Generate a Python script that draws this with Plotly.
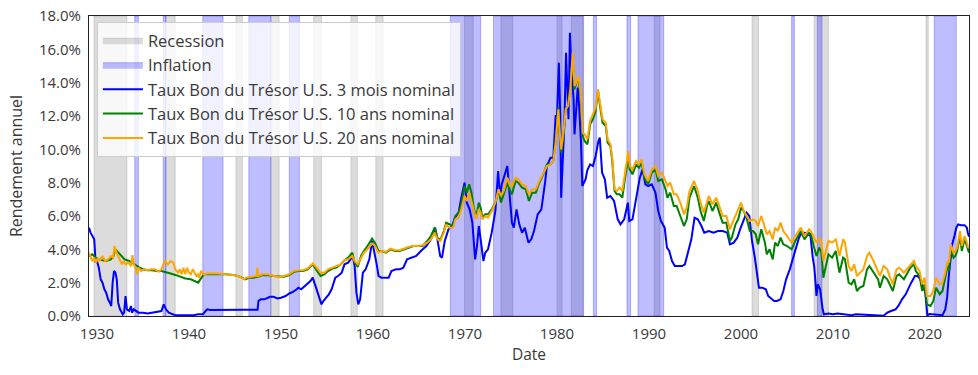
import plotly.graph_objects as go

# ---------------- data ----------------
rec_start = [1929.67, 1937.45, 1945.10, 1948.90, 1953.55, 1957.60, 1960.30, 1969.95, 1973.90, 1980.00, 1981.55, 1990.55, 2001.20, 2007.95, 2020.10]
rec_end   = [1933.25, 1938.50, 1945.80, 1949.80, 1954.40, 1958.30, 1961.10, 1970.90, 1975.20, 1980.55, 1982.90, 1991.20, 2001.90, 2009.50, 2020.35]

inf_start = [1934.10, 1937.20, 1941.50, 1946.50, 1950.90, 1968.40, 1973.10, 1983.95, 1987.60, 1988.80, 2005.50, 2008.30, 2021.00]
inf_end   = [1934.50, 1937.50, 1943.70, 1948.90, 1952.00, 1971.70, 1982.85, 1984.30, 1988.00, 1991.60, 2005.80, 2008.80, 2023.40]

t3m_dates = [1929.13, 1929.3, 1929.5, 1929.7, 1929.85, 1930.0, 1930.2, 1930.4, 1930.6, 1930.8, 1931.0, 1931.2, 1931.4, 1931.55, 1931.7, 1931.85, 1932.0, 1932.15, 1932.3, 1932.5, 1932.8, 1932.95, 1933.1, 1933.25, 1933.5, 1933.7, 1933.8, 1934.0, 1934.5, 1935.0, 1935.5, 1936.0, 1936.5, 1937.0, 1937.25, 1937.5, 1937.8, 1938.2, 1938.5, 1939.0, 1939.5, 1940.0, 1940.5, 1941.0, 1941.5, 1941.8, 1942.0, 1942.3, 1943.0, 1944.0, 1945.0, 1946.0, 1947.0, 1947.45, 1947.55, 1947.8, 1948.2, 1948.8, 1949.2, 1949.6, 1950.0, 1950.5, 1950.9, 1951.3, 1951.7, 1951.9, 1952.2, 1952.6, 1952.9, 1953.2, 1953.45, 1953.7, 1954.0, 1954.4, 1954.6, 1954.9, 1955.2, 1955.5, 1955.9, 1956.2, 1956.6, 1956.9, 1957.3, 1957.8, 1958.0, 1958.2, 1958.4, 1958.6, 1958.9, 1959.2, 1959.6, 1959.9, 1960.1, 1960.4, 1960.6, 1960.9, 1961.3, 1961.7, 1962.0, 1962.5, 1962.9, 1963.3, 1963.7, 1964.2, 1964.7, 1965.2, 1965.8, 1966.3, 1966.75, 1967.0, 1967.3, 1967.5, 1967.8, 1968.2, 1968.6, 1968.9, 1969.3, 1969.6, 1969.95, 1970.2, 1970.5, 1970.8, 1971.1, 1971.3, 1971.5, 1971.7, 1972.0, 1972.2, 1972.5, 1972.9, 1973.3, 1973.6, 1973.8, 1974.0, 1974.3, 1974.6, 1974.8, 1975.1, 1975.3, 1975.6, 1975.9, 1976.2, 1976.5, 1976.9, 1977.2, 1977.5, 1977.9, 1978.3, 1978.7, 1978.9, 1979.3, 1979.6, 1979.85, 1980.0, 1980.2, 1980.35, 1980.45, 1980.6, 1980.8, 1980.98, 1981.1, 1981.25, 1981.4, 1981.55, 1981.8, 1981.9, 1982.1, 1982.25, 1982.4, 1982.6, 1982.75, 1982.9, 1983.1, 1983.3, 1983.6, 1983.9, 1984.2, 1984.5, 1984.65, 1984.9, 1985.2, 1985.45, 1985.8, 1986.2, 1986.6, 1986.9, 1987.3, 1987.7, 1987.85, 1988.2, 1988.6, 1989.0, 1989.3, 1989.6, 1989.9, 1990.3, 1990.7, 1991.0, 1991.3, 1991.7, 1991.95, 1992.2, 1992.5, 1992.8, 1993.2, 1993.6, 1993.9, 1994.3, 1994.6, 1994.95, 1995.3, 1995.7, 1996.0, 1996.5, 1997.0, 1997.5, 1998.0, 1998.5, 1998.8, 1999.2, 1999.6, 1999.9, 2000.3, 2000.6, 2000.9, 2001.2, 2001.5, 2001.8, 2001.95, 2002.3, 2002.7, 2002.95, 2003.4, 2003.6, 2003.9, 2004.3, 2004.6, 2004.9, 2005.3, 2005.6, 2005.9, 2006.3, 2006.6, 2006.9, 2007.3, 2007.55, 2007.8, 2007.95, 2008.1, 2008.2, 2008.35, 2008.6, 2008.85, 2009.0, 2009.5, 2010.0, 2010.5, 2011.0, 2011.5, 2012.0, 2012.5, 2013.0, 2013.5, 2014.0, 2014.5, 2015.0, 2015.5, 2015.9, 2016.3, 2016.8, 2017.1, 2017.5, 2017.9, 2018.2, 2018.5, 2018.9, 2019.2, 2019.5, 2019.8, 2020.0, 2020.15, 2020.25, 2020.5, 2021.0, 2021.5, 2021.9, 2022.2, 2022.4, 2022.6, 2022.8, 2022.95, 2023.2, 2023.4, 2023.6, 2023.9, 2024.3, 2024.55, 2024.65, 2024.78]
t3m_values = [5.3, 5.0, 4.8, 4.6, 3.2, 3.3, 2.9, 2.2, 2.0, 1.6, 1.4, 1.0, 0.8, 0.6, 2.0, 2.7, 2.6, 2.2, 0.8, 0.4, 0.1, 0.2, 1.2, 0.4, 0.3, 0.6, 0.2, 0.4, 0.2, 0.2, 0.15, 0.2, 0.25, 0.3, 0.7, 0.4, 0.2, 0.1, 0.05, 0.05, 0.05, 0.05, 0.05, 0.1, 0.1, 0.3, 0.4, 0.36, 0.37, 0.37, 0.37, 0.37, 0.37, 0.37, 0.9, 1.0, 1.0, 1.15, 1.15, 1.05, 1.1, 1.2, 1.35, 1.45, 1.6, 1.7, 1.6, 1.8, 2.0, 2.1, 2.3, 1.9, 1.4, 0.7, 0.9, 1.1, 1.3, 1.6, 2.3, 2.4, 2.6, 3.1, 3.2, 3.6, 3.0, 1.4, 0.7, 1.0, 2.6, 2.8, 3.4, 4.5, 4.0, 3.1, 2.4, 2.3, 2.3, 2.3, 2.7, 2.8, 2.8, 2.9, 3.4, 3.5, 3.6, 3.9, 4.2, 4.6, 5.3, 4.6, 3.6, 3.5, 4.5, 5.2, 5.4, 5.9, 6.2, 7.1, 8.0, 6.8, 6.4, 5.6, 3.4, 4.2, 5.4, 4.6, 3.3, 3.8, 4.0, 5.0, 6.3, 8.7, 7.2, 7.9, 8.4, 9.0, 7.6, 5.6, 5.3, 6.4, 5.5, 5.0, 5.3, 4.4, 4.6, 5.1, 6.1, 6.4, 8.0, 9.0, 9.5, 9.5, 12.0, 12.0, 15.2, 12.0, 7.1, 8.8, 11.5, 15.8, 14.3, 11.8, 17.0, 15.0, 13.0, 10.9, 12.5, 13.7, 12.6, 10.5, 7.8, 8.0, 8.2, 8.75, 9.1, 9.0, 9.6, 10.5, 10.7, 8.6, 8.2, 7.1, 7.2, 6.9, 5.8, 5.5, 5.8, 6.8, 5.7, 5.8, 7.0, 8.3, 8.8, 7.9, 7.8, 7.9, 7.4, 6.3, 5.7, 5.3, 4.1, 3.9, 3.3, 3.0, 3.0, 3.0, 3.1, 4.0, 4.6, 5.9, 5.8, 5.4, 5.0, 5.1, 5.0, 5.1, 5.1, 5.0, 4.3, 4.4, 4.7, 5.2, 5.8, 6.2, 6.0, 4.5, 3.5, 2.2, 1.7, 1.7, 1.6, 1.2, 1.0, 0.9, 0.9, 1.0, 1.5, 2.2, 2.8, 3.4, 4.0, 4.7, 5.0, 5.0, 4.9, 4.8, 3.5, 3.0, 2.0, 1.2, 1.9, 1.6, 0.5, 0.1, 0.15, 0.1, 0.15, 0.12, 0.05, 0.05, 0.1, 0.08, 0.05, 0.05, 0.03, 0.03, 0.02, 0.2, 0.3, 0.4, 0.6, 1.0, 1.3, 1.7, 2.0, 2.4, 2.4, 2.2, 1.6, 1.55, 0.3, 0.05, 0.12, 0.08, 0.05, 0.05, 0.4, 1.1, 2.5, 3.8, 4.3, 4.8, 5.3, 5.5, 5.45, 5.45, 5.3, 5.0, 4.75]

t10y_dates = [1929.13, 1929.5, 1929.85, 1930.2, 1930.6, 1931.0, 1931.5, 1931.8, 1932.0, 1932.3, 1932.6, 1933.0, 1933.5, 1934.0, 1934.5, 1935.0, 1935.5, 1936.0, 1936.5, 1937.0, 1937.4, 1938.0, 1938.6, 1939.2, 1939.6, 1940.2, 1940.6, 1941.0, 1941.6, 1942.0, 1943.0, 1944.0, 1945.0, 1945.6, 1946.1, 1946.6, 1947.0, 1947.5, 1948.0, 1948.6, 1949.2, 1949.8, 1950.3, 1950.9, 1951.4, 1951.9, 1952.4, 1952.9, 1953.45, 1953.8, 1954.3, 1954.7, 1955.1, 1955.6, 1956.0, 1956.5, 1956.9, 1957.3, 1957.75, 1958.0, 1958.35, 1958.7, 1959.0, 1959.4, 1959.9, 1960.2, 1960.6, 1960.9, 1961.4, 1961.9, 1962.4, 1962.9, 1963.4, 1963.9, 1964.4, 1964.9, 1965.4, 1965.9, 1966.3, 1966.7, 1967.0, 1967.3, 1967.7, 1967.95, 1968.3, 1968.7, 1968.95, 1969.3, 1969.6, 1969.95, 1970.2, 1970.45, 1970.7, 1970.95, 1971.2, 1971.5, 1971.7, 1971.9, 1972.2, 1972.5, 1972.9, 1973.3, 1973.65, 1973.9, 1974.2, 1974.6, 1974.9, 1975.1, 1975.5, 1975.8, 1976.2, 1976.6, 1976.95, 1977.3, 1977.7, 1978.0, 1978.5, 1978.9, 1979.3, 1979.6, 1979.85, 1980.15, 1980.3, 1980.45, 1980.7, 1980.95, 1981.2, 1981.45, 1981.7, 1981.9, 1982.1, 1982.35, 1982.6, 1982.8, 1983.0, 1983.3, 1983.6, 1983.9, 1984.2, 1984.45, 1984.7, 1984.95, 1985.3, 1985.5, 1985.8, 1986.0, 1986.25, 1986.5, 1986.8, 1987.1, 1987.4, 1987.75, 1987.9, 1988.2, 1988.6, 1988.9, 1989.2, 1989.5, 1989.9, 1990.3, 1990.7, 1991.0, 1991.4, 1991.8, 1992.0, 1992.3, 1992.7, 1993.0, 1993.4, 1993.8, 1994.1, 1994.4, 1994.9, 1995.3, 1995.6, 1995.95, 1996.3, 1996.5, 1996.9, 1997.3, 1997.7, 1998.0, 1998.4, 1998.8, 1999.0, 1999.4, 1999.7, 2000.0, 2000.3, 2000.6, 2000.95, 2001.3, 2001.6, 2001.85, 2002.2, 2002.6, 2002.8, 2003.1, 2003.45, 2003.7, 2004.0, 2004.3, 2004.6, 2005.0, 2005.5, 2005.9, 2006.5, 2006.9, 2007.4, 2007.6, 2007.9, 2008.2, 2008.5, 2008.75, 2008.95, 2009.2, 2009.5, 2009.9, 2010.3, 2010.7, 2011.1, 2011.3, 2011.7, 2012.0, 2012.3, 2012.6, 2012.9, 2013.3, 2013.7, 2013.95, 2014.4, 2014.9, 2015.1, 2015.5, 2015.9, 2016.2, 2016.5, 2016.9, 2017.2, 2017.7, 2018.0, 2018.4, 2018.8, 2019.0, 2019.4, 2019.7, 2019.95, 2020.2, 2020.6, 2020.9, 2021.2, 2021.6, 2021.9, 2022.2, 2022.45, 2022.6, 2022.8, 2023.1, 2023.3, 2023.5, 2023.8, 2024.0, 2024.3, 2024.5, 2024.7, 2024.78]
t10y_values = [3.6, 3.7, 3.5, 3.4, 3.35, 3.3, 3.4, 3.6, 4.0, 3.8, 3.6, 3.4, 3.3, 3.1, 2.95, 2.8, 2.75, 2.75, 2.7, 2.7, 2.65, 2.55, 2.45, 2.35, 2.25, 2.2, 2.1, 2.0, 2.5, 2.5, 2.5, 2.5, 2.45, 2.35, 2.2, 2.3, 2.3, 2.35, 2.45, 2.45, 2.4, 2.35, 2.35, 2.45, 2.65, 2.7, 2.7, 2.8, 3.1, 2.8, 2.4, 2.5, 2.7, 2.85, 2.9, 3.1, 3.35, 3.5, 3.8, 3.2, 2.95, 3.6, 3.9, 4.2, 4.65, 4.4, 3.9, 3.9, 3.8, 4.0, 3.9, 3.9, 4.0, 4.1, 4.2, 4.2, 4.2, 4.5, 4.8, 5.3, 4.7, 4.55, 5.1, 5.6, 5.5, 5.4, 6.0, 6.2, 6.7, 7.8, 7.4, 7.9, 7.4, 6.5, 5.9, 6.8, 6.5, 5.9, 6.1, 6.1, 6.4, 6.8, 7.6, 6.8, 7.3, 8.0, 7.5, 7.3, 8.1, 8.0, 7.7, 7.6, 6.9, 7.4, 7.4, 7.9, 8.5, 9.1, 9.1, 9.3, 10.5, 12.5, 10.8, 9.8, 10.8, 12.5, 12.6, 13.8, 15.4, 13.6, 14.0, 14.2, 13.0, 10.8, 10.5, 10.3, 11.5, 11.8, 12.3, 13.5, 12.5, 11.6, 11.4, 10.4, 10.2, 9.3, 7.5, 7.3, 7.3, 7.1, 8.3, 9.5, 8.8, 8.5, 9.1, 8.9, 9.2, 8.3, 7.9, 8.6, 8.8, 8.1, 8.2, 7.6, 7.1, 7.4, 6.6, 6.6, 6.0, 5.4, 5.8, 7.1, 7.8, 7.1, 6.3, 5.7, 6.6, 6.9, 6.3, 6.8, 6.1, 5.6, 5.6, 4.5, 4.7, 5.5, 5.8, 6.5, 6.3, 5.9, 5.1, 5.1, 4.9, 4.3, 5.2, 4.4, 3.7, 4.0, 3.4, 4.4, 4.2, 4.7, 4.3, 4.2, 4.0, 4.5, 5.1, 4.6, 5.0, 4.9, 4.2, 3.6, 4.1, 3.8, 2.3, 2.9, 3.7, 3.5, 3.9, 2.6, 3.5, 3.4, 2.0, 1.9, 2.2, 1.5, 1.7, 1.8, 2.8, 3.0, 2.6, 2.2, 1.7, 2.4, 2.2, 1.8, 1.5, 2.4, 2.5, 2.2, 2.5, 2.9, 3.1, 2.7, 2.4, 1.5, 1.9, 0.7, 0.6, 0.9, 1.7, 1.3, 1.5, 2.3, 3.0, 2.7, 4.0, 3.5, 3.6, 3.9, 4.8, 3.9, 4.6, 4.3, 3.8, 3.8]

t20y_dates = [1929.13, 1929.3, 1929.5, 1929.7, 1929.9, 1930.1, 1930.3, 1930.6, 1930.9, 1931.2, 1931.5, 1931.75, 1931.9, 1932.05, 1932.3, 1932.5, 1932.7, 1932.9, 1933.1, 1933.4, 1933.7, 1933.85, 1934.0, 1934.2, 1934.35, 1934.5, 1934.8, 1935.1, 1935.5, 1935.9, 1936.3, 1936.7, 1937.0, 1937.2, 1937.4, 1937.7, 1938.0, 1938.3, 1938.5, 1938.8, 1939.0, 1939.2, 1939.4, 1939.6, 1939.8, 1940.0, 1940.2, 1940.4, 1940.6, 1940.8, 1940.95, 1941.1, 1941.3, 1941.6, 1942.0, 1943.0, 1944.0, 1945.0, 1945.6, 1946.0, 1946.2, 1946.6, 1947.0, 1947.35, 1947.42, 1947.5, 1948.0, 1948.6, 1949.2, 1949.8, 1950.3, 1950.9, 1951.4, 1951.9, 1952.4, 1952.9, 1953.45, 1953.8, 1954.3, 1954.7, 1955.1, 1955.6, 1956.0, 1956.5, 1956.9, 1957.3, 1957.75, 1958.0, 1958.35, 1958.7, 1959.0, 1959.4, 1959.9, 1960.2, 1960.6, 1960.9, 1961.4, 1961.9, 1962.4, 1962.9, 1963.4, 1963.9, 1964.4, 1964.9, 1965.4, 1965.9, 1966.3, 1966.7, 1967.0, 1967.3, 1967.7, 1967.95, 1968.3, 1968.7, 1968.95, 1969.3, 1969.6, 1969.95, 1970.2, 1970.45, 1970.7, 1970.95, 1971.2, 1971.5, 1971.7, 1971.9, 1972.2, 1972.5, 1972.9, 1973.3, 1973.65, 1973.9, 1974.2, 1974.6, 1974.9, 1975.1, 1975.5, 1975.8, 1976.2, 1976.6, 1976.95, 1977.3, 1977.7, 1978.0, 1978.5, 1978.9, 1979.3, 1979.6, 1979.85, 1980.15, 1980.3, 1980.45, 1980.7, 1980.95, 1981.2, 1981.45, 1981.7, 1981.9, 1982.1, 1982.35, 1982.6, 1982.8, 1983.0, 1983.3, 1983.6, 1983.9, 1984.2, 1984.45, 1984.7, 1984.95, 1985.3, 1985.5, 1985.8, 1986.0, 1986.25, 1986.5, 1986.8, 1987.1, 1987.4, 1987.75, 1987.9, 1988.2, 1988.6, 1988.9, 1989.2, 1989.5, 1989.9, 1990.3, 1990.7, 1991.0, 1991.4, 1991.8, 1992.0, 1992.3, 1992.7, 1993.0, 1993.4, 1993.8, 1994.1, 1994.4, 1994.9, 1995.3, 1995.6, 1995.95, 1996.3, 1996.5, 1996.9, 1997.3, 1997.7, 1998.0, 1998.4, 1998.8, 1999.0, 1999.4, 1999.7, 2000.0, 2000.3, 2000.6, 2000.95, 2001.3, 2001.6, 2001.85, 2002.2, 2002.6, 2002.8, 2003.1, 2003.45, 2003.7, 2004.0, 2004.3, 2004.6, 2005.0, 2005.5, 2005.9, 2006.5, 2006.9, 2007.4, 2007.6, 2007.9, 2008.2, 2008.5, 2008.75, 2008.95, 2009.2, 2009.5, 2009.9, 2010.3, 2010.7, 2011.1, 2011.3, 2011.7, 2012.0, 2012.3, 2012.6, 2012.9, 2013.3, 2013.7, 2013.95, 2014.4, 2014.9, 2015.1, 2015.5, 2015.9, 2016.2, 2016.5, 2016.9, 2017.2, 2017.7, 2018.0, 2018.4, 2018.8, 2019.0, 2019.4, 2019.7, 2019.95, 2020.2, 2020.6, 2020.9, 2021.2, 2021.6, 2021.9, 2022.2, 2022.45, 2022.6, 2022.8, 2023.1, 2023.3, 2023.5, 2023.8, 2024.0, 2024.3, 2024.5, 2024.7, 2024.78]
t20y_values = [3.8, 3.6, 3.3, 3.5, 3.2, 3.5, 3.3, 3.6, 3.3, 3.4, 3.6, 3.5, 4.2, 3.9, 3.6, 3.4, 3.1, 3.3, 3.1, 3.2, 3.0, 3.65, 3.1, 2.9, 2.5, 2.9, 2.7, 2.8, 2.75, 2.8, 2.8, 2.65, 2.8, 3.1, 3.3, 3.1, 3.3, 3.2, 2.8, 2.6, 2.8, 2.5, 2.9, 2.5, 2.9, 2.6, 2.5, 2.8, 2.6, 2.4, 2.5, 2.3, 2.7, 2.5, 2.55, 2.55, 2.5, 2.45, 2.35, 2.2, 2.3, 2.35, 2.4, 2.4, 2.9, 2.4, 2.5, 2.5, 2.4, 2.35, 2.4, 2.5, 2.7, 2.75, 2.75, 2.85, 3.15, 2.95, 2.6, 2.6, 2.8, 2.9, 3.0, 3.1, 3.35, 3.4, 3.6, 3.3, 3.1, 3.5, 3.8, 4.0, 4.35, 4.2, 3.8, 3.9, 3.85, 4.05, 3.95, 3.95, 4.05, 4.15, 4.2, 4.2, 4.25, 4.4, 4.6, 5.0, 4.6, 4.5, 5.0, 5.5, 5.3, 5.3, 5.8, 5.9, 6.4, 7.2, 6.9, 7.4, 6.9, 6.3, 5.8, 6.4, 6.2, 5.8, 6.0, 5.9, 6.3, 6.8, 7.6, 7.2, 7.5, 8.3, 7.8, 7.8, 8.3, 8.2, 7.9, 7.8, 7.3, 7.6, 7.6, 8.0, 8.6, 9.0, 9.1, 9.3, 10.4, 12.4, 11.0, 10.0, 11.0, 12.4, 12.6, 13.6, 15.8, 13.8, 14.0, 14.4, 13.2, 11.0, 10.9, 10.6, 11.7, 12.1, 12.5, 13.6, 12.6, 11.8, 11.6, 10.6, 10.3, 9.5, 7.6, 7.5, 7.7, 7.5, 8.6, 9.9, 9.0, 8.8, 9.3, 9.1, 9.4, 8.5, 8.1, 8.8, 9.0, 8.4, 8.6, 8.1, 7.8, 8.0, 7.3, 7.3, 6.8, 6.1, 6.5, 7.5, 8.1, 7.5, 6.8, 6.2, 6.9, 7.2, 6.7, 7.1, 6.5, 6.0, 6.0, 5.2, 5.5, 6.0, 6.4, 6.8, 6.3, 6.0, 5.7, 5.8, 5.7, 5.4, 6.0, 5.3, 4.9, 5.1, 4.6, 5.3, 5.1, 5.6, 5.1, 4.8, 4.4, 4.8, 5.3, 4.8, 5.2, 5.1, 4.7, 4.4, 4.7, 4.4, 3.3, 3.8, 4.5, 4.4, 4.6, 3.6, 4.6, 4.4, 3.0, 2.7, 3.1, 2.4, 2.6, 2.8, 3.6, 3.8, 3.3, 2.7, 2.4, 3.0, 2.8, 2.3, 1.9, 2.8, 2.9, 2.6, 2.8, 3.0, 3.3, 3.0, 2.7, 1.9, 2.3, 1.2, 1.2, 1.5, 2.3, 1.9, 2.0, 2.6, 3.3, 3.2, 4.3, 3.8, 3.9, 4.1, 5.1, 4.2, 4.8, 4.5, 4.1, 4.2]

x_ticks = [1930, 1940, 1950, 1960, 1970, 1980, 1990, 2000, 2010, 2020]
y_ticks = [0, 2, 4, 6, 8, 10, 12, 14, 16, 18]
y_max = 18

labels = ["Recession", "Inflation",
          "Taux Bon du Trésor U.S. 3 mois nominal",
          "Taux Bon du Trésor U.S. 10 ans nominal",
          "Taux Bon du Trésor U.S. 20 ans nominal"]


def band_polygon(starts, ends):
    xs, ys = [], []
    for s, e in zip(starts, ends):
        xs += [s, s, e, e, s, None]
        ys += [0, y_max, y_max, 0, 0, None]
    return xs, ys


FONT = "'Open Sans', 'Noto Sans', sans-serif"
TXT = "#3a3a3a"

fig = go.Figure()

rx, ry = band_polygon(rec_start, rec_end)
fig.add_trace(go.Scatter(x=rx, y=ry, fill="toself", mode="lines",
                         fillcolor="rgba(128,128,128,0.28)",
                         line=dict(color="rgba(128,128,128,0.28)", width=1),
                         name=labels[0], hoverinfo="skip"))
ix, iy = band_polygon(inf_start, inf_end)
fig.add_trace(go.Scatter(x=ix, y=iy, fill="toself", mode="lines",
                         fillcolor="rgba(0,0,255,0.26)",
                         line=dict(color="rgba(0,0,255,0.26)", width=1),
                         name=labels[1], hoverinfo="skip"))

fig.add_trace(go.Scatter(x=t3m_dates, y=t3m_values, mode="lines",
                         line=dict(color="#0000ff", width=2), name=labels[2]))
fig.add_trace(go.Scatter(x=t10y_dates, y=t10y_values, mode="lines",
                         line=dict(color="#008000", width=2), name=labels[3]))
fig.add_trace(go.Scatter(x=t20y_dates, y=t20y_values, mode="lines",
                         line=dict(color="#ffa500", width=2), name=labels[4]))

fig.update_layout(
    width=978, height=375,
    margin=dict(l=89, r=9, t=16, b=59, autoexpand=False),
    paper_bgcolor="white", plot_bgcolor="white",
    font=dict(family=FONT, size=15, color=TXT),
    showlegend=True,
    legend=dict(x=0.009, y=0.98, xanchor="left", yanchor="top",
                bgcolor="rgba(255,255,255,0.8)", bordercolor="#cccccc",
                borderwidth=1, font=dict(size=16.5, color=TXT),
                itemwidth=40, tracegroupgap=0),
    xaxis=dict(range=[1929.13, 2024.78], tickvals=x_ticks,
               ticktext=[str(v) for v in x_ticks],
               showgrid=False, zeroline=False, showline=True,
               linecolor="#222", linewidth=1, mirror=True, ticks="",
               automargin=False, ticklabelstandoff=4,
               title=dict(text="Date", font=dict(size=15.5, color=TXT), standoff=6)),
    yaxis=dict(range=[0, y_max], tickvals=y_ticks,
               ticktext=[f"{v:.1f}%" for v in y_ticks],
               showgrid=False, zeroline=False, showline=True,
               linecolor="#222", linewidth=1, mirror=True, ticks="",
               automargin=False, ticklabelstandoff=4,
               title=dict(text="Rendement annuel", font=dict(size=16, color=TXT), standoff=12)),
)

fig.write_html("out.html",
               config={"displayModeBar": False},
               post_script="document.body.style.margin='0';document.body.style.padding='0';")
